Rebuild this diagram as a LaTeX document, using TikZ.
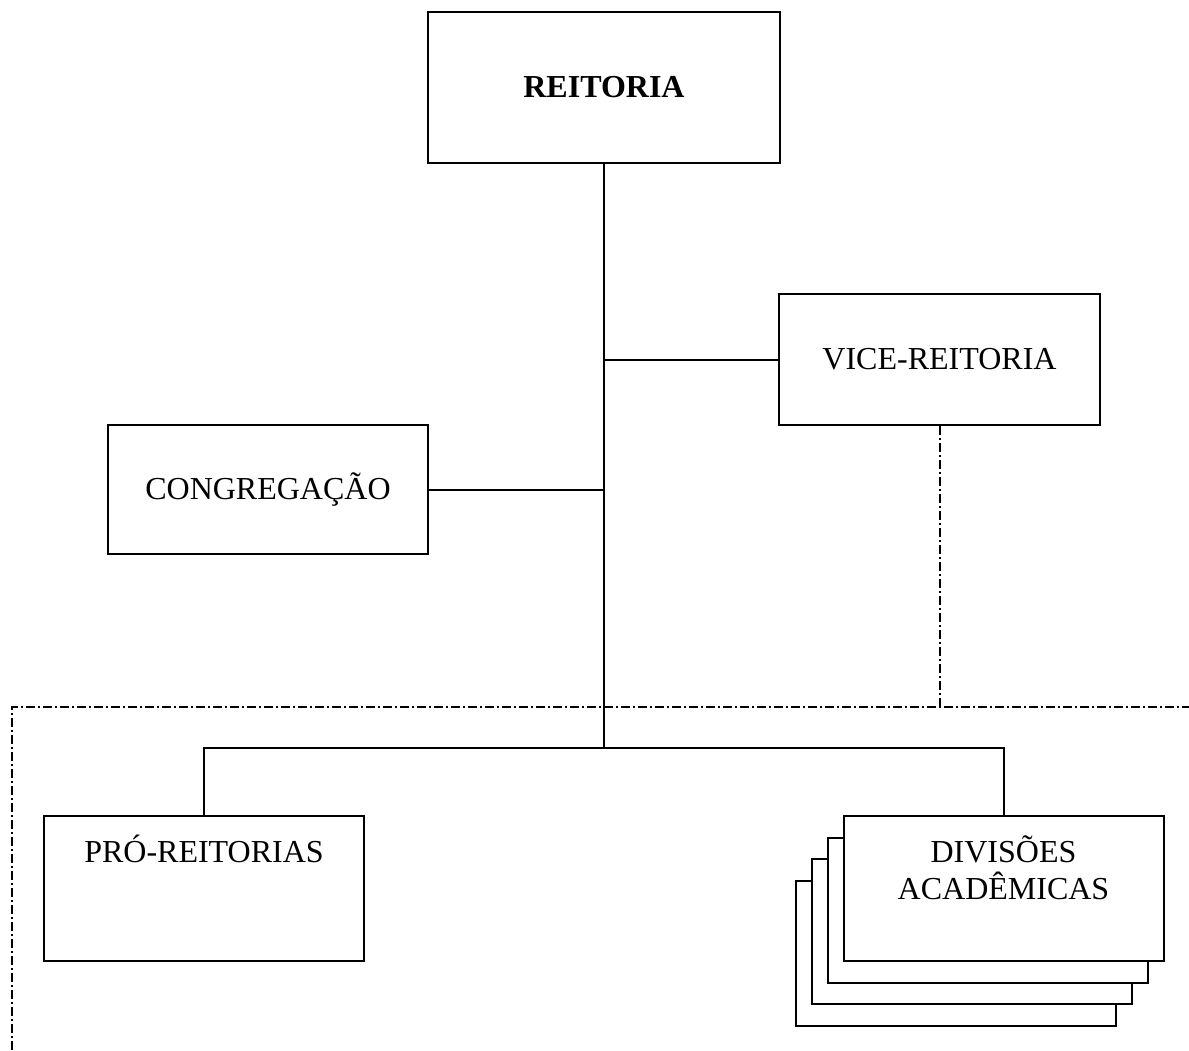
\documentclass[tikz,border=0pt]{standalone}
\usepackage{fontspec}
\setmainfont{Liberation Serif}
\usepackage{tikz}
\tikzset{
  orgbox/.style={draw, fill=white, line width=2pt, minimum width=320pt, minimum height=145pt, inner sep=0pt},
  orgline/.style={line width=2pt},
  dashdotline/.style={line width=2pt, dash pattern=on 9pt off 3pt on 2pt off 3pt}
}

\begin{document}
\begin{tikzpicture}[x=1pt, y=-1pt, font=\fontsize{32}{37}\selectfont]

      \useasboundingbox (0, 0) rectangle (1189, 1050);

      % Draw the boxes
      \node[orgbox, minimum width=352pt, minimum height=151pt, font=\fontsize{32}{37}\selectfont\bfseries] (reit) at (604, 87.5) {REITORIA};
      \node[orgbox, minimum width=321pt, minimum height=131pt] (vice) at (939.5, 359.5) {VICE-REITORIA};
      \node[orgbox, minimum height=129pt] (cong) at (268, 489.5) {CONGREGAÇÃO};
      \node[orgbox] (pro) at (204, 888.5) {};
      \node[anchor=base] (protext) at (204, 862) {PRÓ-REITORIAS};

      % Draw the stacked boxes, back to front
      \foreach \i in {3,2,1}
        \node[orgbox] (div\i) at ({1003.5-16*\i}, {888.5+21.6*\i}) {};
      \node[orgbox] (div) at (1003.5, 888.5) {};
      \node[anchor=base, align=center] (divtext) at (1003.5, 899) {DIVISÕES\\ACADÊMICAS};

      % Draw the lines
      \coordinate (fork) at (604, 748);
      \draw[orgline] (reit.south) -- (fork);
      \draw[orgline] (reit.south |- vice.west) -- (vice.west);
      \draw[orgline] (cong.east) -- (reit.south |- cong.east);
      \draw[orgline] (pro.north) |- (fork) -| (div.north);

      % Draw the dash-dot lines
      \coordinate (dleft) at (12, 707);
      \coordinate (dright) at (1189, 707);
      \coordinate (dbottom) at (12, 1050);
      \draw[dashdotline] (vice.south) -- (vice.south |- dleft);
      \draw[dashdotline] (dbottom) -- (dleft) -- (dright);

  \end{tikzpicture}
\end{document}
